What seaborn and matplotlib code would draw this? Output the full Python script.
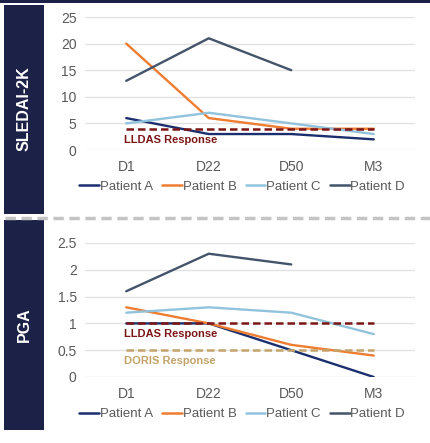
import numpy as np
import pandas as pd
import matplotlib.pyplot as plt
import seaborn as sns
from matplotlib.patches import Rectangle
from matplotlib.lines import Line2D

visits = ["D1", "D22", "D50", "M3"]
patients = ["Patient A", "Patient B", "Patient C", "Patient D"]

sledai_a = [6, 3, 3, 2]
sledai_b = [20, 6, 4, 4]
sledai_c = [5, 7, 5, 3]
sledai_d = [13, 21, 15, np.nan]

pga_a = [1.0, 1.0, 0.5, 0.0]
pga_b = [1.3, 1.0, 0.6, 0.4]
pga_c = [1.2, 1.3, 1.2, 0.8]
pga_d = [1.6, 2.3, 2.1, np.nan]

sledai_lldas = 4
pga_lldas = 1.0
pga_doris = 0.5

colors = ["#1b2f6e", "#ee7d31", "#92c3dc", "#44546a"]
navy = "#1b2147"
lldas_col = "#7b1616"
doris_col = "#c3a36b"


def long_df(series):
    rows = []
    for name, vals in zip(patients, series):
        for v, val in zip(visits, vals):
            rows.append({"visit": v, "patient": name, "value": val})
    return pd.DataFrame(rows)


sns.set_style("white")
plt.rcParams["font.family"] = ["Liberation Sans", "DejaVu Sans"]

fig = plt.figure(figsize=(4.30, 4.43), dpi=100)
W, H = 430, 443


def px_rect(x0, y0, x1, y1, **kw):
    fig.add_artist(Rectangle((x0 / W, 1 - y1 / H), (x1 - x0) / W, (y1 - y0) / H,
                             transform=fig.transFigure, **kw))


# frame decorations
px_rect(0, 0, 430, 2.5, color=navy, lw=0)
px_rect(4, 5, 44, 214, color=navy, lw=0)
px_rect(4, 220, 44, 430, color=navy, lw=0)
fig.add_artist(Line2D([5 / W, 1], [1 - 217.5 / H] * 2, transform=fig.transFigure,
                      color="#c4c4c4", lw=2.5, ls=(0, (3, 1.6))))
fig.text(24 / W, 1 - 109 / H, "SLEDAI-2K", rotation=90, color="white",
         fontsize=11.5, fontweight="bold", ha="center", va="center")
fig.text(24 / W, 1 - 325 / H, "PGA", rotation=90, color="white",
         fontsize=11.5, fontweight="bold", ha="center", va="center")

ax1 = fig.add_axes([85 / W, 1 - 150 / H, 330 / W, 133 / H])
ax2 = fig.add_axes([85 / W, 1 - 377 / H, 330 / W, 134 / H])

panels = [
    (ax1, [sledai_a, sledai_b, sledai_c, sledai_d], (0, 25), np.arange(0, 26, 5),
     [("LLDAS Response", sledai_lldas, lldas_col, -2.1)], [str(t) for t in range(0, 26, 5)]),
    (ax2, [pga_a, pga_b, pga_c, pga_d], (0, 2.5), np.arange(0, 2.6, 0.5),
     [("LLDAS Response", pga_lldas, lldas_col, -0.19), ("DORIS Response", pga_doris, doris_col, -0.2)],
     ["0", "0.5", "1", "1.5", "2", "2.5"]),
]

for ax, series, ylim, yt, refs, ylabels in panels:
    df = long_df(series)
    sns.lineplot(data=df, x="visit", y="value", hue="patient", palette=colors,
                 ax=ax, lw=1.7, sort=False, legend=False)
    for label, val, col, off in refs:
        ax.plot(["D1", "M3"], [val, val], color=col, lw=1.8, ls=(0, (3, 1.6)), zorder=3)
        ax.text(-0.03, val + off, label, color=col, fontsize=8, fontweight="bold",
                ha="left", va="center")
    ax.set_xlim(-0.5, 3.5)
    ax.set_ylim(*ylim)
    ax.set_yticks(yt)
    ax.set_yticklabels(ylabels)
    ax.grid(axis="y", color="#e2e2e2", lw=1)
    ax.set_axisbelow(True)
    for s in ax.spines.values():
        s.set_visible(False)
    ax.tick_params(axis="both", length=0, labelsize=10, colors="#595959")
    ax.tick_params(axis="x", pad=7)
    ax.tick_params(axis="y", pad=6)
    ax.set_xlabel("")
    ax.set_ylabel("")
    handles = [Line2D([], [], color=c, lw=1.8) for c in colors]
    ax.legend(handles, patients, loc="center", bbox_to_anchor=(0.476, -0.278),
              ncol=4, frameon=False, fontsize=9.5, handlelength=1.5,
              handletextpad=0.05, columnspacing=0.7, labelcolor="#595959",
              borderpad=0, borderaxespad=0)

plt.savefig("out.png", dpi=100)
